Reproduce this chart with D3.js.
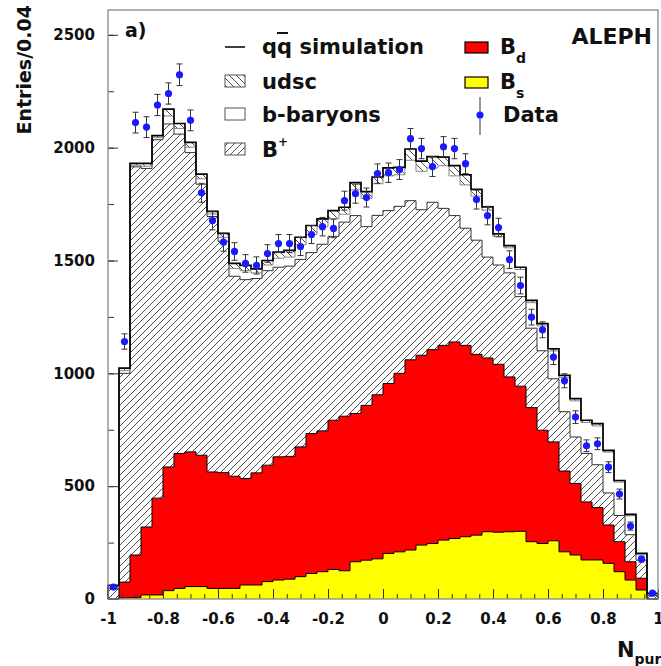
<!DOCTYPE html>
<html>
<head>
<meta charset="utf-8">
<script src="https://cdn.jsdelivr.net/npm/d3@7"></script>
<style>
  body { margin: 0; background: #fff; }
  text { font-family: "DejaVu Sans", sans-serif; font-weight: bold; fill: #111; }
</style>
</head>
<body>
<script>
//-----------------Data----------------

// 50 bins of width 0.04 between -1 and 1
const binRange = [-1, 1];
const binCount = 50;

const bsCounts = [0, 5, 6, 18, 18, 37, 47, 55, 55, 47, 47, 47, 62, 62, 77, 84, 88, 99, 113, 121, 131, 125, 165, 172, 178, 202, 209, 217, 239, 246, 261, 268, 276, 283, 298, 296, 298, 300, 254, 246, 258, 209, 195, 173, 173, 158, 121, 84, 40, 0];
const bdCounts = [0, 70, 189, 301, 429, 548, 598, 597, 582, 516, 513, 497, 472, 497, 516, 546, 544, 575, 620, 624, 661, 685, 657, 686, 727, 753, 791, 843, 841, 859, 863, 871, 848, 801, 770, 744, 686, 643, 594, 502, 438, 358, 317, 257, 232, 170, 133, 81, 52, 0];
const bplusCounts = [45, 925, 1720, 1589, 1588, 1520, 1415, 1326, 1201, 1132, 1025, 886, 881, 861, 862, 840, 843, 831, 802, 827, 815, 860, 877, 792, 795, 766, 740, 705, 645, 653, 607, 560, 519, 506, 447, 440, 461, 397, 352, 352, 280, 263, 206, 215, 190, 142, 116, 120, 80, 15];
const baryonCounts = [7, 12, 7, 10, 9, 35, 25, 24, 24, 11, 18, 35, 40, 25, 25, 40, 40, 65, 80, 78, 78, 35, 114, 125, 140, 154, 140, 179, 170, 152, 189, 176, 192, 195, 208, 126, 111, 120, 113, 110, 123, 151, 160, 137, 172, 181, 148, 84, 27, 7];
const udscCounts = [8, 11, 8, 12, 9, 31, 22, 21, 21, 12, 17, 22, 23, 18, 20, 27, 30, 33, 40, 34, 36, 31, 32, 30, 30, 35, 33, 50, 45, 50, 38, 45, 45, 30, 15, 12, 10, 10, 10, 10, 10, 10, 10, 10, 10, 8, 7, 6, 3, 3];

const dataCounts = [53, 1141, 2111, 2091, 2189, 2240, 2323, 2121, 1800, 1677, 1581, 1540, 1487, 1478, 1531, 1575, 1575, 1562, 1615, 1650, 1642, 1765, 1796, 1779, 1885, 1889, 1903, 2040, 1996, 1916, 2004, 1996, 1929, 1770, 1699, 1646, 1504, 1389, 1249, 1193, 1072, 967, 806, 679, 688, 584, 465, 323, 177, 26];
const dataErrors = [7, 34, 46, 46, 47, 47, 48, 46, 42, 41, 40, 39, 39, 38, 39, 40, 40, 40, 40, 41, 41, 42, 42, 42, 43, 43, 44, 45, 45, 44, 45, 45, 44, 42, 41, 41, 39, 37, 35, 35, 33, 31, 28, 26, 26, 24, 22, 18, 13, 5];

const xTicks = [-1, -0.8, -0.6, -0.4, -0.2, 0, 0.2, 0.4, 0.6, 0.8, 1];
const xTickLabels = ["-1", "-0.8", "-0.6", "-0.4", "-0.2", "0", "0.2", "0.4", "0.6", "0.8", "1"];
const yTicks = [0, 500, 1000, 1500, 2000, 2500];
const yTickLabels = ["0", "500", "1000", "1500", "2000", "2500"];

//-----------------Main svg----------------

const width = 661;
const height = 666;

const x = d3.scaleLinear().domain(binRange).range([108, 658]);
const y = d3.scaleLinear().domain([0, 2610]).range([599, 10]);

const svg = d3.select("body").append("svg").attr("width", width).attr("height", height);

// hatch patterns
const defs = svg.append("defs");
function addHatch(id, up) {
  const p = defs.append("pattern").attr("id", id).attr("patternUnits", "userSpaceOnUse").attr("width", 7).attr("height", 7);
  p.append("rect").attr("width", 7).attr("height", 7).attr("fill", "#fff");
  const d = up ? "M-1,1 l2,-2 M0,7 l7,-7 M6,8 l2,-2" : "M-1,6 l2,2 M0,0 l7,7 M6,-1 l2,2";
  p.append("path").attr("d", d).attr("stroke", "#3a3a3a").attr("stroke-width", 0.9);
}
addHatch("hatchUp", true);
addHatch("hatchDown", false);

//-----------------Stacked histogram----------------

const binWidth = (binRange[1] - binRange[0]) / binCount;
const bins = d3.range(binCount).map((i) => ({
  lo: binRange[0] + i * binWidth,
  hi: binRange[0] + (i + 1) * binWidth,
  bs: bsCounts[i],
  bd: bdCounts[i],
  bplus: bplusCounts[i],
  baryon: baryonCounts[i],
  udsc: udscCounts[i],
}));

const keys = ["bs", "bd", "bplus", "baryon", "udsc"];
const layers = d3.stack().keys(keys)(bins);

const fills = { bs: "#ffff00", bd: "#ff0000", bplus: "url(#hatchUp)", baryon: "#fff", udsc: "url(#hatchDown)" };
const lines = {
  bs: { c: "#000", w: 1 },
  bd: { c: "#000", w: 1 },
  bplus: { c: "#333", w: 1 },
  baryon: { c: "#888", w: 1 },
  udsc: { c: "#000", w: 1.7 },
};

function stepPoints(layer) {
  const pts = [];
  layer.forEach((d) => {
    pts.push({ x: d.data.lo, y0: d[0], y1: d[1] });
    pts.push({ x: d.data.hi, y0: d[0], y1: d[1] });
  });
  return pts;
}

const area = d3.area().x((p) => x(p.x)).y0((p) => y(p.y0)).y1((p) => y(p.y1));
const topLine = d3.line().x((p) => x(p.x)).y((p) => y(p.y1));

const plot = svg.append("g");

layers.forEach((layer) => {
  plot.append("path").attr("d", area(stepPoints(layer))).attr("fill", fills[layer.key]).attr("stroke", "none");
});

layers.forEach((layer) => {
  const pts = stepPoints(layer);
  const outline = [{ x: binRange[0], y1: 0 }, ...pts, { x: binRange[1], y1: 0 }];
  plot
    .append("path")
    .attr("d", topLine(outline))
    .attr("fill", "none")
    .attr("stroke", lines[layer.key].c)
    .attr("stroke-width", lines[layer.key].w);
});

//-----------------Data points----------------

const points = bins.map((b, i) => ({ c: (b.lo + b.hi) / 2, v: dataCounts[i], e: dataErrors[i] }));
const pts = plot.append("g");
pts
  .selectAll("line.err")
  .data(points)
  .enter()
  .append("line")
  .attr("x1", (d) => x(d.c))
  .attr("x2", (d) => x(d.c))
  .attr("y1", (d) => y(d.v - d.e))
  .attr("y2", (d) => y(d.v + d.e))
  .attr("stroke", "#333")
  .attr("stroke-width", 1);
[-1, 1].forEach((s) => {
  pts
    .selectAll("line.cap" + s)
    .data(points)
    .enter()
    .append("line")
    .attr("x1", (d) => x(d.c) - 3)
    .attr("x2", (d) => x(d.c) + 3)
    .attr("y1", (d) => y(d.v + s * d.e))
    .attr("y2", (d) => y(d.v + s * d.e))
    .attr("stroke", "#333")
    .attr("stroke-width", 1);
});
pts
  .selectAll("circle")
  .data(points)
  .enter()
  .append("circle")
  .attr("cx", (d) => x(d.c))
  .attr("cy", (d) => y(d.v))
  .attr("r", 3.6)
  .attr("fill", "#1a1aff");

//-----------------Axes----------------

const minorX = d3.range(-1, 1.001, 0.05);
svg
  .append("g")
  .attr("transform", "translate(0,599)")
  .call(d3.axisBottom(x).tickValues(minorX).tickSize(-5).tickFormat(""))
  .call((g) => g.select(".domain").remove());
const xAxis = svg
  .append("g")
  .attr("transform", "translate(0,599)")
  .call(d3.axisBottom(x).tickValues(xTicks).tickSize(-10).tickPadding(14).tickFormat((d, i) => xTickLabels[i]));
xAxis.select(".domain").remove();

const minorY = d3.range(0, 2601, 250);
svg
  .append("g")
  .attr("transform", "translate(108,0)")
  .call(d3.axisLeft(y).tickValues(minorY).tickSize(-6).tickFormat(""))
  .call((g) => g.select(".domain").remove());
const yAxis = svg
  .append("g")
  .attr("transform", "translate(108,0)")
  .call(d3.axisLeft(y).tickValues(yTicks).tickSize(-10).tickPadding(13).tickFormat((d, i) => yTickLabels[i]));
yAxis.select(".domain").remove();

svg.selectAll(".tick line").attr("stroke", "#333");
svg.selectAll(".tick text").style("font-size", "15px").style("font-family", "DejaVu Sans").style("font-weight", "bold").attr("fill", "#111");

// frame
svg.append("rect").attr("x", 108).attr("y", 10).attr("width", 550).attr("height", 589).attr("fill", "none").attr("stroke", "#888").attr("stroke-width", 1.3);

// axis titles
svg
  .append("text")
  .attr("transform", "translate(31,5) rotate(-90)")
  .attr("text-anchor", "end")
  .style("font-size", "19px")
  .text("Entries/0.04");

const xt = svg.append("text").attr("x", 617).attr("y", 657).style("font-size", "21px");
xt.append("tspan").text("N");
xt.append("tspan").attr("dy", 7).style("font-size", "14px").text("pur");

// labels
svg.append("text").attr("x", 125).attr("y", 37).style("font-size", "19px").text("a)");
svg.append("text").attr("x", 652).attr("y", 44).attr("text-anchor", "end").style("font-size", "22px").text("ALEPH");

//-----------------Legend----------------

const legendRows = [54, 89, 122, 157];
const lg = svg.append("g");

// q qbar simulation
lg.append("line").attr("x1", 225).attr("x2", 245).attr("y1", legendRows[0] - 7).attr("y2", legendRows[0] - 7).attr("stroke", "#000").attr("stroke-width", 1.5);
lg.append("text").attr("x", 262).attr("y", legendRows[0]).style("font-size", "21px").text("qq simulation");
lg.append("line").attr("x1", 277).attr("x2", 288).attr("y1", 33).attr("y2", 33).attr("stroke", "#111").attr("stroke-width", 2);

const leftBoxes = [
  { row: 1, fill: "url(#hatchDown)", label: "udsc" },
  { row: 2, fill: "#fff", label: "b-baryons" },
  { row: 3, fill: "url(#hatchUp)", label: "B" },
];
leftBoxes.forEach((b) => {
  lg.append("rect")
    .attr("x", 225)
    .attr("y", legendRows[b.row] - 14)
    .attr("width", 20)
    .attr("height", 12)
    .attr("fill", b.fill)
    .attr("stroke", "#555")
    .attr("stroke-width", 1);
  const t = lg.append("text").attr("x", 262).attr("y", legendRows[b.row]).style("font-size", "21px").text(b.label);
  if (b.row === 3) t.append("tspan").attr("dy", -11).style("font-size", "12px").text("+");
});

const rightBoxes = [
  { row: 0, fill: "#ff0000", sub: "d" },
  { row: 1, fill: "#ffff00", sub: "s" },
];
rightBoxes.forEach((b) => {
  lg.append("rect")
    .attr("x", 465)
    .attr("y", legendRows[b.row] - 12)
    .attr("width", 23)
    .attr("height", 11)
    .attr("fill", b.fill)
    .attr("stroke", "#000")
    .attr("stroke-width", 1.2);
  const t = lg.append("text").attr("x", 500).attr("y", legendRows[b.row]).style("font-size", "21px").text("B");
  t.append("tspan").attr("dy", 9).style("font-size", "14px").text(b.sub);
});

lg.append("line").attr("x1", 480).attr("x2", 480).attr("y1", 97).attr("y2", 135).attr("stroke", "#333").attr("stroke-width", 1);
lg.append("circle").attr("cx", 480).attr("cy", 115).attr("r", 3.6).attr("fill", "#1a1aff");
lg.append("text").attr("x", 503).attr("y", legendRows[2]).style("font-size", "21px").text("Data");
</script>
</body>
</html>
